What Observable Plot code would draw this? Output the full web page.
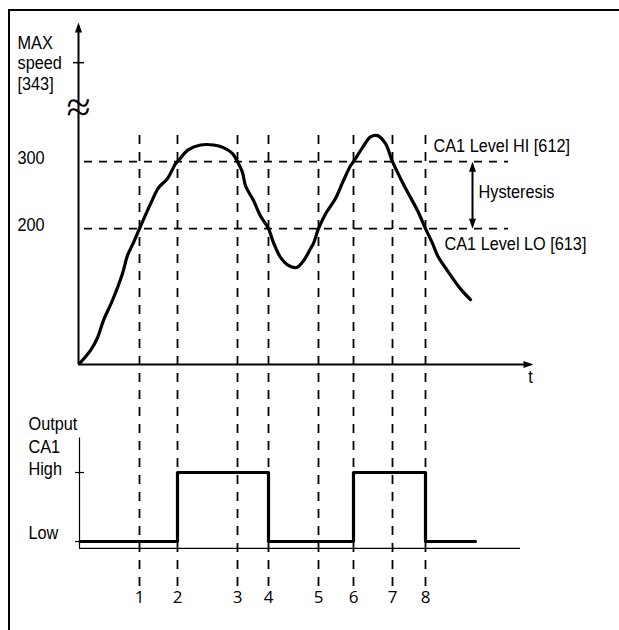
<!DOCTYPE html>
<html><head><meta charset="utf-8">
<script src="https://cdn.jsdelivr.net/npm/d3@7"></script>
<script src="https://cdn.jsdelivr.net/npm/@observablehq/plot@0.6"></script>
<style>
body{margin:0;background:#fff;}
#wrap{position:relative;width:619px;height:630px;overflow:hidden;background:#fff;}
#frame{position:absolute;left:8px;top:9px;width:620px;height:700px;border:2px solid #000;border-bottom:none;border-right:none;z-index:5;pointer-events:none;}
#topChart,#botChart{position:absolute;left:0;}
#topChart{top:0;} #botChart{top:380px;}
</style></head><body>
<div id="wrap"><div id="frame"></div><div id="topChart"></div><div id="botChart"></div></div>
<script>
// speed curve (t in arbitrary time units, v in speed units)
const speedT = [0,2,3.4,4.6,6.4,8.4,9.4,10.6,11.8,14,15.6,17.4,19,19.4,21.6,24,26.6,28.6,30.4,31.4,32.4,33,34.6,36,37.6,38.6,40,41.4,43.2,44.6,46,46.6,47.6,49,51,52.6,54,54.6,56.4,58,59.4,61,62.4,64,65.6,67.4,69,70.4,71.4,73.4,76,78];
const speedV = [0,18,37,63,93,133,160,179,200,237,261,275,297,300,318,325,325,321,312,300,284,264,242,219,200,179,157,146,142,152,170,178,200,222,245,272,294,300,321,337,339,327,300,275,252,227,200,178,160,137,110,94];
// switching events
const eventT = [11.8,19.4,31.4,37.6,47.6,54.6,62.4,69];
const eventLabels = ["1","2","3","4","5","6","7","8"];
// thresholds
const levelHi = 300, levelLo = 200;
const levelLabels = ["300","200"];
const maxSpeedTick = 448; // MAX speed mark on the broken axis
const breakAt = 384;
// output CA1
const outT = [0,19.4,37.6,54.6,69,79];
const outLevel = [0,1,0,1,0,0];

const speed = speedT.map((t,i)=>({t, v: speedV[i]}));
const out = outT.map((t,i)=>({t, level: outLevel[i]}));

const FONT = '"Liberation Sans",Arial,sans-serif';
const NUMFONT = '"Open Sans","DejaVu Sans",sans-serif';
const arrowHead = {draw(ctx){ ctx.moveTo(0,0); ctx.lineTo(-3.5,10); ctx.lineTo(3.5,10); ctx.closePath(); }};
const xScale = {domain:[0,90.6], range:[80,533], axis:null};
const txt = {fontFamily: FONT, fontSize: 18.5, fill:"black"};

const topPlot = Plot.plot({
  width:619, height:380, margin:0,
  style:{background:"transparent", overflow:"visible"},
  x: xScale,
  y: {domain:[0,508], range:[362,22], axis:null},
  marks:[
    Plot.ruleY([levelHi, levelLo], {x1:0.8, x2:85.6, stroke:"black", strokeWidth:1.8, strokeDasharray:"8,7"}),
    Plot.ruleX(eventT, {insetTop:135, stroke:"black", strokeWidth:1.8, strokeDasharray:"9,8"}),
    Plot.ruleX([0], {y1:-3, y2:500, dx:-2, stroke:"black", strokeWidth:2}),
    Plot.dot([[0,508]], {x:d=>d[0], y:d=>d[1], dx:-2, symbol:arrowHead, fill:"black", stroke:null, rotate:0}),
    Plot.ruleY([0], {x1:-0.4, x2:89, dy:2, stroke:"black", strokeWidth:2}),
    Plot.dot([[90.6,0]], {x:d=>d[0], y:d=>d[1], dy:2, symbol:arrowHead, fill:"black", stroke:null, rotate:90}),
    Plot.ruleY([maxSpeedTick], {x1:-1.4, x2:0.8, stroke:"black", strokeWidth:1.5}),
    Plot.text(["≈"], {x:0, y:breakAt, dx:-2, dy:2, fontFamily:"Liberation Serif", fontSize:44, fill:"black"}),
    Plot.line(speed, {x:"t", y:"v", curve:"catmull-rom", stroke:"black", strokeWidth:3.2, strokeLinejoin:"round", strokeLinecap:"round"}),
    // hysteresis arrow
    Plot.ruleX([78.4], {y1:levelHi, y2:levelLo, stroke:"black", strokeWidth:2, insetTop:4, insetBottom:4}),
    Plot.dot([[78.4,levelHi]], {x:d=>d[0], y:d=>d[1], symbol:arrowHead, fill:"black", stroke:null, rotate:0}),
    Plot.dot([[78.4,levelLo]], {x:d=>d[0], y:d=>d[1], symbol:arrowHead, fill:"black", stroke:null, rotate:180}),
    // texts
    Plot.text(["MAX\nspeed\n[343]"], {y:maxSpeedTick, frameAnchor:"left", dx:17, textAnchor:"start", lineAnchor:"middle", lineHeight:1.1, ...txt}),
    Plot.text(levelLabels, {y:[levelHi, levelLo], frameAnchor:"left", dx:17, dy:-4, textAnchor:"start", ...txt}),
    Plot.text(["CA1 Level HI [612]"], {x:70.6, y:levelHi, dy:-16, textAnchor:"start", ...txt}),
    Plot.text(["Hysteresis"], {x:79.6, y:(levelHi+levelLo)/2, dy:-3, textAnchor:"start", ...txt}),
    Plot.text(["CA1 Level LO [613]"], {x:72.8, y:levelLo, dy:15, textAnchor:"start", ...txt}),
    Plot.text(["t"], {x:90, y:0, dy:15, ...txt})
  ]
});
document.getElementById("topChart").appendChild(topPlot);

const botPlot = Plot.plot({
  width:619, height:250, margin:0,
  style:{background:"transparent", overflow:"visible"},
  x: xScale,
  y: {domain:[0,1], range:[161,92], axis:null},
  marks:[
    Plot.ruleX(eventT, {insetBottom:37, stroke:"black", strokeWidth:1.8, strokeDasharray:"9,8", strokeDashoffset:7}),
    Plot.ruleX([0], {y1:-0.1, y2:1.5, dx:-1, stroke:"black", strokeWidth:1.2}),
    Plot.ruleY([-0.1], {x1:-0.2, x2:88, stroke:"black", strokeWidth:1.2}),
    Plot.ruleY([0,1], {x1:-1, x2:0.8, stroke:"black", strokeWidth:1.2}),
    Plot.line(out, {x:"t", y:"level", curve:"step-after", stroke:"black", strokeWidth:3.2}),
    Plot.text(["Output\nCA1\nHigh"], {y:1, frameAnchor:"left", dx:28, dy:-27, textAnchor:"start", lineAnchor:"middle", lineHeight:1.2, ...txt}),
    Plot.text(["Low"], {y:0, frameAnchor:"left", dx:28, dy:-8, textAnchor:"start", ...txt}),
    Plot.text(eventLabels, {x:eventT, frameAnchor:"bottom", dy:-28, fontFamily:NUMFONT, fontSize:17, fill:"black"})
  ]
});
document.getElementById("botChart").appendChild(botPlot);

// condense the label font horizontally (reference uses a condensed face)
for (const svg of [topPlot, botPlot]) {
  svg.querySelectorAll('g[font-family*="Liberation Sans"] text').forEach(el => {
    const tr = el.getAttribute("transform");
    if (tr) {
      el.setAttribute("transform", tr + " scale(0.88,1)");
    } else {
      const x = +(el.getAttribute("x") || 0), y = +(el.getAttribute("y") || 0);
      el.setAttribute("x", 0); el.setAttribute("y", 0);
      el.setAttribute("transform", `translate(${x},${y}) scale(0.88,1)`);
    }
  });
}
</script>
</body></html>
